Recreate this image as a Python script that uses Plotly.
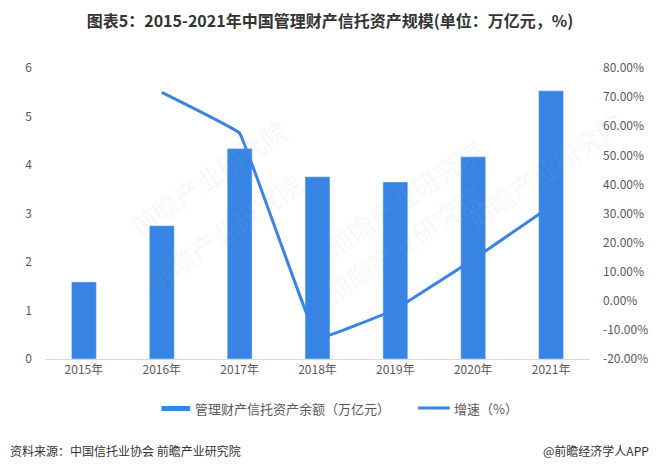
import plotly.graph_objects as go

# data
years = ["2015年", "2016年", "2017年", "2018年", "2019年", "2020年", "2021年"]
balance = [1.59, 2.75, 4.34, 3.76, 3.65, 4.17, 5.53]          # 万亿元
growth = [None, 71.6, 57.6, -13.0, -2.9, 14.2, 32.6]           # %
right_ticks = [-20, -10, 0, 10, 20, 30, 40, 50, 60, 70, 80]

blue = "#3784E4"
grey = "#595959"
font = "Noto Sans CJK SC"

# the page body adds 8px, so the figure is 8px smaller than the window
W, H = 652, 463
L, R, T, B = 37, 63, 60, 112
pw, ph = W - L - R, H - T - B


def px(x):
    # window pixel x -> paper x
    return (x - 8 - L) / pw


def py(y):
    # window pixel y -> paper y
    return (H - B - (y - 8)) / ph


fig = go.Figure()

fig.add_trace(go.Bar(
    x=years, y=balance, name="管理财产信托资产余额（万亿元）",
    marker_color=blue, width=0.32, showlegend=False,
))
fig.add_trace(go.Scatter(
    x=years, y=growth, name="增速（%）", yaxis="y2",
    mode="lines", line=dict(color=blue, width=3, shape="spline", smoothing=0.15),
    showlegend=False,
))

# faint watermarks
for wx, wy in [(120, 108), (137, 300), (408, 128), (408, 313), (640, 170)]:
    fig.add_annotation(
        text="前瞻产业研究院", xref="paper", yref="paper", x=px(wx), y=py(wy),
        showarrow=False, textangle=-34,
        font=dict(family=font, size=26, color="rgba(170,180,200,0.11)"),
    )

# hand-made legend
fig.add_shape(type="rect", xref="paper", yref="paper",
              x0=px(163), x1=px(192), y0=py(411), y1=py(406),
              fillcolor=blue, line_width=0)
fig.add_annotation(text="管理财产信托资产余额（万亿元）", xref="paper", yref="paper",
                   x=px(195), y=py(408), xanchor="left", yanchor="middle",
                   showarrow=False, font=dict(family=font, size=13, color=grey))
fig.add_shape(type="line", xref="paper", yref="paper",
              x0=px(423), x1=px(455), y0=py(408), y1=py(408),
              line=dict(color=blue, width=3))
fig.add_annotation(text="增速（%）", xref="paper", yref="paper",
                   x=px(457), y=py(408), xanchor="left", yanchor="middle",
                   showarrow=False, font=dict(family=font, size=13, color=grey))

fig.update_layout(
    width=W, height=H,
    margin=dict(l=L, r=R, t=T, b=B),
    paper_bgcolor="white", plot_bgcolor="white",
    font=dict(family=font, size=12, color=grey),
    title=dict(
        text="<b>图表5：2015-2021年中国管理财产信托资产规模(单位：万亿元，%)</b>",
        x=(330 - 8) / W, xanchor="center", y=1 - (21 - 8) / H, yanchor="middle",
        font=dict(family=font, size=16, color="#333333"),
    ),
    xaxis=dict(
        showline=True, linecolor="#D9D9D9", linewidth=1,
        ticks="", showgrid=False, tickfont=dict(size=12, color=grey),
    ),
    yaxis=dict(
        range=[0, 6], dtick=1, showgrid=False, zeroline=False,
        tickfont=dict(size=12, color=grey), ticklabelstandoff=12,
    ),
    yaxis2=dict(
        overlaying="y", side="right", range=[-20, 80],
        tickvals=right_ticks, ticktext=[f"{v:.2f}%" for v in right_ticks],
        showgrid=False, zeroline=False,
        tickfont=dict(size=12, color=grey), ticklabelstandoff=12,
    ),
)

fig.add_annotation(
    text="资料来源：中国信托业协会 前瞻产业研究院", xref="paper", yref="paper",
    x=px(8), y=py(450), xanchor="left", yanchor="middle", showarrow=False,
    font=dict(family=font, size=12, color="#333333"),
)
fig.add_annotation(
    text="@前瞻经济学人APP", xref="paper", yref="paper",
    x=px(659), y=py(450), xanchor="right", yanchor="middle", showarrow=False,
    font=dict(family=font, size=12, color="#333333"),
)

fig.write_html("out.html")
